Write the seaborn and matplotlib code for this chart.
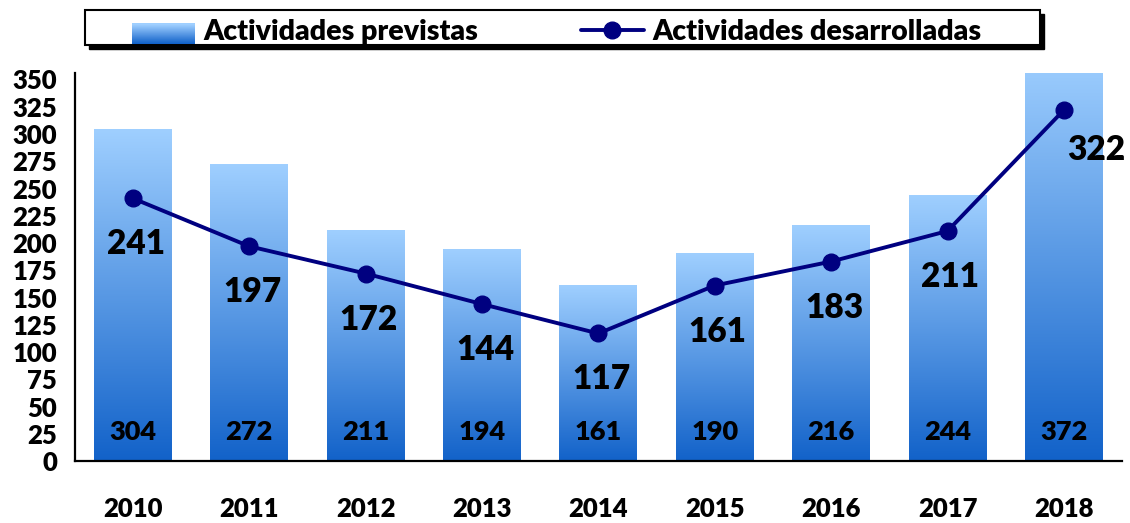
import seaborn as sns
import pandas as pd
import numpy as np
import matplotlib.pyplot as plt
from matplotlib.colors import LinearSegmentedColormap
from matplotlib.patches import Rectangle
from matplotlib.lines import Line2D
from matplotlib.legend_handler import HandlerBase

# datos
anios = ["2010", "2011", "2012", "2013", "2014", "2015", "2016", "2017", "2018"]
previstas = [304, 272, 211, 194, 161, 190, 216, 244, 372]
desarrolladas = [241, 197, 172, 144, 117, 161, 183, 211, 322]

df = pd.DataFrame({"anio": anios, "previstas": previstas, "desarrolladas": desarrolladas})

sns.set_style("white")
plt.rcParams["font.family"] = ["Lato", "DejaVu Sans"]
peso = "heavy"
plt.rcParams["font.weight"] = peso
for k in ["text.color", "xtick.color", "ytick.color", "axes.labelcolor", "axes.edgecolor"]:
    plt.rcParams[k] = "black"

azul_osc = "#1262C9"
azul_cla = "#9FCFFF"
cmap = LinearSegmentedColormap.from_list("grad", [azul_osc, azul_cla])
navy = "#000080"

fig = plt.figure(figsize=(11.3, 5.23), dpi=100)
ax = fig.add_axes([0.066, 0.1185, 0.927, 0.742])

sns.barplot(data=df, x="anio", y="previstas", color=azul_osc, width=0.67, ax=ax, zorder=2)

# degradado en cada barra
grad = np.linspace(0, 1, 256).reshape(-1, 1)
for p in ax.patches:
    x0, w, h = p.get_x(), p.get_width(), p.get_height()
    ax.imshow(grad, extent=[x0, x0 + w, 0, h], origin="lower", aspect="auto",
              cmap=cmap, zorder=2.5)
    p.set_facecolor("none")

xs = np.arange(len(anios))
ax.plot(xs, desarrolladas, color=navy, lw=2.8, marker="o", markersize=12, zorder=4)

ax.set_xlim(-0.5, len(anios) - 0.5)
ax.set_ylim(0, 356)
ax.set_yticks(range(0, 351, 25))
ax.set_xticks(xs)
ax.set_xticklabels(anios)
ax.set_xticks(np.arange(-0.5, len(anios)), minor=True)
ax.set_xlabel("")
ax.set_ylabel("")

for s in ["top", "right"]:
    ax.spines[s].set_visible(False)
for s in ["left", "bottom"]:
    ax.spines[s].set_linewidth(1.6)
    ax.spines[s].set_color("black")

ax.tick_params(axis="y", direction="inout", length=11, width=1.6, labelsize=18.5, pad=7)
ax.tick_params(axis="x", which="major", length=0, labelsize=18.5, pad=26)
ax.tick_params(axis="x", which="minor", direction="inout", length=12, width=1.6)
for t in ax.get_xticklabels() + ax.get_yticklabels():
    t.set_fontweight(peso)
    t.set_color("black")

# etiquetas de las barras
for i, v in enumerate(previstas):
    ax.text(i, 27, str(v), ha="center", va="center", fontsize=19.5, fontweight=peso,
            color="black", zorder=5)

# etiquetas de la linea
for i, v in enumerate(desarrolladas):
    if i == len(desarrolladas) - 1:
        off = (32, -40)
    else:
        off = (3, -46)
    ax.annotate(str(v), (i, v), xytext=off, textcoords="offset pixels", color="black",
                ha="center", va="center", fontsize=24, fontweight=peso, zorder=5)

# leyenda con marco y sombra
bx, by, bw, bh = 0.0752, 0.914, 0.845, 0.067
fig.patches.append(Rectangle((bx + 0.004, by - 0.008), bw, bh, transform=fig.transFigure,
                             facecolor="black", edgecolor="black", zorder=0))
fig.patches.append(Rectangle((bx, by), bw, bh, transform=fig.transFigure,
                             facecolor="white", edgecolor="black", lw=1.5, zorder=1))


class HandlerGrad(HandlerBase):
    def create_artists(self, legend, orig, xd, yd, width, height, fontsize, trans):
        n = 20
        arts = []
        for k in range(n):
            arts.append(Rectangle((xd, yd + height * k / n - height * 0.2), width, height * 1.4 / n,
                                  facecolor=cmap(k / (n - 1)), edgecolor="none", transform=trans))
        return arts


h_bar = Rectangle((0, 0), 1, 1)
h_lin = Line2D([], [], color=navy, lw=2.8, marker="o", markersize=12)
leg = fig.legend([h_bar, h_lin], ["Actividades previstas", "Actividades desarrolladas"],
                 handler_map={Rectangle: HandlerGrad()},
                 loc="center", bbox_to_anchor=(bx + bw / 2 - 0.005, by + bh / 2 - 0.008),
                 ncol=2, frameon=False, fontsize=20.5, handlelength=2.2, columnspacing=3.6,
                 handletextpad=0.3)
for t in leg.get_texts():
    t.set_fontweight(peso)
    t.set_color("black")
leg.set_zorder(3)

fig.savefig("out.png", dpi=100)
